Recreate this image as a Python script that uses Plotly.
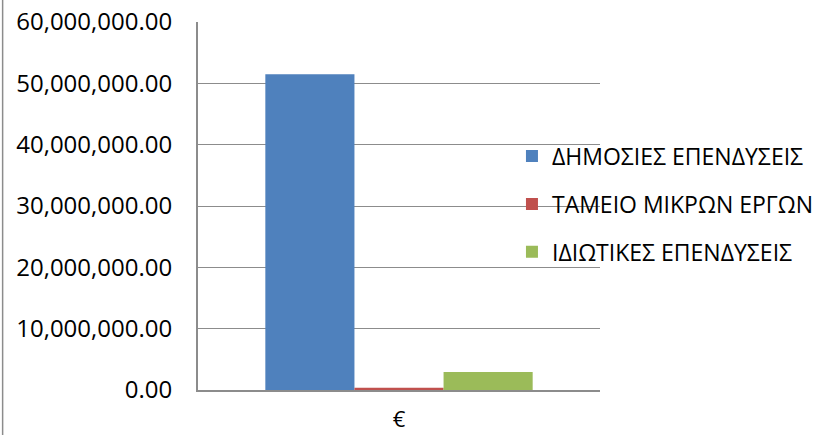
import plotly.graph_objects as go

# Investment totals per funding source (in euros)
categories = ["€"]
series_names = ["ΔΗΜΟΣΙΕΣ ΕΠΕΝΔΥΣΕΙΣ", "ΤΑΜΕΙΟ ΜΙΚΡΩΝ ΕΡΓΩΝ", "ΙΔΙΩΤΙΚΕΣ ΕΠΕΝΔΥΣΕΙΣ"]
series_values = [[51500000], [350000], [2930000]]
series_colors = ["#4F81BD", "#C0504D", "#9BBB59"]
y_ticks = [0, 10000000, 20000000, 30000000, 40000000, 50000000, 60000000]

FONT = "Open Sans"
GRID = "#8c8c8c"

fig = go.Figure()
for i, (name, vals, col) in enumerate(zip(series_names, series_values, series_colors)):
    fig.add_trace(go.Bar(
        x=categories, y=vals, name=name, legendgroup=f"g{i}",
        marker=dict(color=col, line=dict(width=0)),
    ))

fig.update_layout(
    width=817, height=435,
    margin=dict(l=198, r=217, t=22, b=45, autoexpand=False),
    paper_bgcolor="white", plot_bgcolor="white",
    barmode="group", bargap=0.335, bargroupgap=0,
    font=dict(family=FONT, size=21, color="#000000"),
    showlegend=True,
    legend=dict(
        x=0.781, xanchor="left", y=0.694, yanchor="top",
        bgcolor="rgba(0,0,0,0)", borderwidth=0,
        font=dict(family=FONT, size=23, color="#000000"),
        traceorder="grouped", tracegroupgap=15, itemwidth=30,
    ),
    xaxis=dict(
        showgrid=False, showline=True, linecolor=GRID, linewidth=2,
        ticks="", tickfont=dict(family=FONT, size=22), ticklabelstandoff=9,
        automargin=False,
    ),
    yaxis=dict(
        range=[0, 60000000], tickvals=y_ticks, tickformat=",.2f",
        showgrid=True, gridcolor=GRID, gridwidth=1.3,
        showline=True, linecolor=GRID, linewidth=2,
        zeroline=False, ticks="", ticklabelstandoff=19,
        tickfont=dict(family=FONT, size=24), automargin=False,
    ),
)

# Outer chart border on the left edge
fig.add_shape(type="line", xref="paper", yref="paper",
              x0=-0.486, x1=-0.486, y0=-0.2, y1=1.1,
              line=dict(color=GRID, width=1.5))

fig.write_html("out.html")
